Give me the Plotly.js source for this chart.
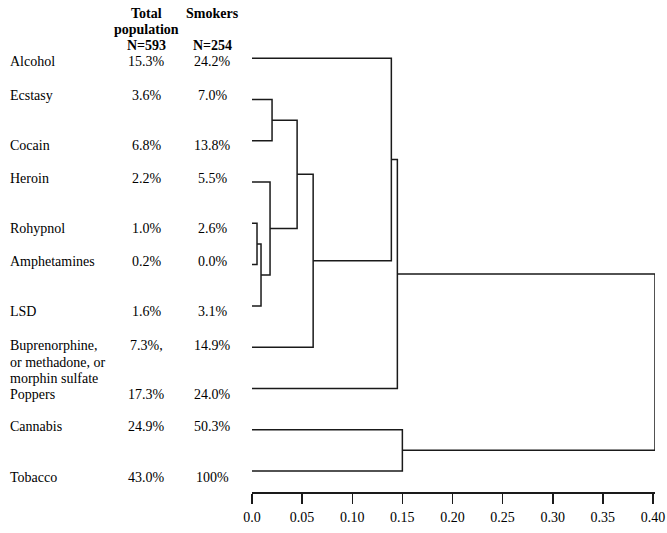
<!DOCTYPE html>
<html>
<head>
<meta charset="utf-8">
<script src="https://cdn.plot.ly/plotly-3.0.1.min.js"></script>
<style>html,body{margin:0;padding:0;background:#fff;}#chart{width:667px;height:533px;}</style>
</head>
<body>
<div id="chart"></div>
<script>
// ---- data ----
const drugs = ['Alcohol','Ecstasy','Cocain','Heroin','Rohypnol','Amphetamines','LSD',
  'Buprenorphine,<br>or methadone, or<br>morphin sulfate','Poppers','Cannabis','Tobacco'];
const totalPct = ['15.3%','3.6%','6.8%','2.2%','1.0%','0.2%','1.6%','7.3%,','17.3%','24.9%','43.0%'];
const smokersPct = ['24.2%','7.0%','13.8%','5.5%','2.6%','0.0%','3.1%','14.9%','24.0%','50.3%','100%'];
const headerTotal = ['Total','population','N=593'];
const headerSmokers = ['Smokers','N=254'];
// linkage: node ids 0..10 are leaves, each merge creates node 11, 12, ...
const mergeA = [1, 4, 12, 3, 11, 15, 0, 17, 9, 18];
const mergeB = [2, 5, 6, 13, 14, 7, 16, 8, 10, 19];
const mergeHeight = [0.020, 0.005, 0.009, 0.018, 0.045, 0.061, 0.139, 0.145, 0.150, 0.402];
const tickVals = [0, 0.05, 0.10, 0.15, 0.20, 0.25, 0.30, 0.35, 0.40];
const tickText = ['0.0','0.05','0.10','0.15','0.20','0.25','0.30','0.35','0.40'];

// ---- layout constants ----
const W = 667, H = 533, L = 252, R = 12, T = 10, B = 41;
const FONT = 'Liberation Serif';
const FS = 14;
function px(xp){ return (xp - L) / (W - L - R); }
function py(yp){ return (H - B - yp) / (H - T - B); }
// row text positions (pixels)
const rowY = [61.7, 95.7, 145, 178.3, 228.3, 261.7, 311.7, 345.7, 394, 426.7, 477.7];
const lineGap = 16.3;

// ---- build dendrogram segments ----
const nodeX = [], nodeY = [];
for (let i = 0; i < drugs.length; i++) { nodeX.push(0); nodeY.push(i); }
const xs = [], ys = [];
for (let k = 0; k < mergeA.length; k++) {
  const a = mergeA[k], b = mergeB[k], h = mergeHeight[k];
  xs.push(nodeX[a], h, h, nodeX[b], null);
  ys.push(nodeY[a], nodeY[a], nodeY[b], nodeY[b], null);
  nodeX.push(h); nodeY.push((nodeY[a] + nodeY[b]) / 2);
}

const traces = [{
  type: 'scatter', mode: 'lines', x: xs, y: ys,
  line: {color: '#1a1a1a', width: 1.5}, hoverinfo: 'skip', showlegend: false
}];

const ann = [];
function addText(text, xp, yp, anchor, bold) {
  ann.push({text: bold ? '<b>' + text + '</b>' : text, xref: 'paper', yref: 'paper',
    x: px(xp), y: py(yp), xanchor: anchor, yanchor: 'middle', showarrow: false,
    font: {family: FONT, size: FS, color: '#000'}, align: anchor});
}
headerTotal.forEach((t, i) => addText(t, 146.7, 13.3 + i * lineGap, 'center', true));
addText(headerSmokers[0], 212.5, 13.3, 'center', true);
addText(headerSmokers[1], 212.5, 13.3 + 2 * lineGap, 'center', true);
drugs.forEach((d, i) => {
  const parts = d.split('<br>');
  parts.forEach((p, j) => addText(p, 8, rowY[i] + j * lineGap, 'left', false));
  addText(totalPct[i], 146.7, rowY[i], 'center', false);
  addText(smokersPct[i], 212.5, rowY[i], 'center', false);
});

const layout = {
  width: W, height: H,
  margin: {l: L, r: R, t: T, b: B, pad: 0},
  paper_bgcolor: '#fff', plot_bgcolor: '#fff',
  showlegend: false,
  font: {family: FONT, size: FS, color: '#000'},
  xaxis: {range: [0, 0.402], showgrid: false, zeroline: false, showline: true,
    linecolor: '#1a1a1a', linewidth: 1.5, ticks: 'outside', ticklen: 10, tickwidth: 1.5,
    tickcolor: '#1a1a1a', tickvals: tickVals, ticktext: tickText, ticklabelstandoff: 2,
    tickfont: {family: FONT, size: FS, color: '#000'}, fixedrange: true},
  yaxis: {range: [10.51, -1.17], visible: false, showgrid: false, zeroline: false, fixedrange: true},
  annotations: ann
};
Plotly.newPlot('chart', traces, layout, {staticPlot: true, displayModeBar: false});
</script>
</body>
</html>
